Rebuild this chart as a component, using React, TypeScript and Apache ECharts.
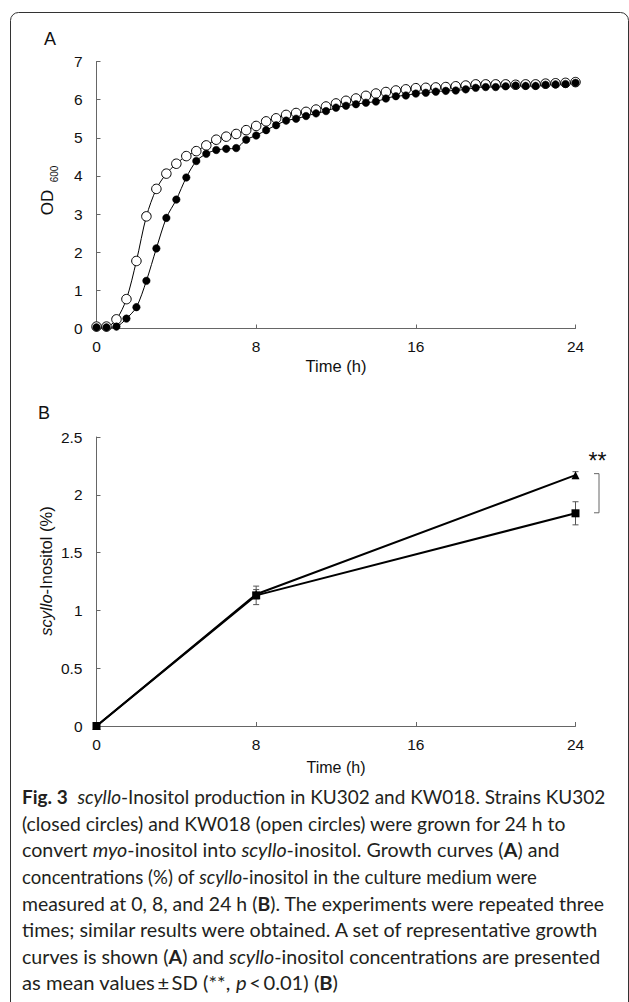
import React, { useEffect, useRef } from "react";
import * as echarts from "echarts";

// ---------- Panel A: growth curves (OD600) ----------
const growthTimes = [
  0, 0.5, 1, 1.5, 2, 2.5, 3, 3.5, 4, 4.5, 5, 5.5, 6, 6.5, 7, 7.5, 8, 8.5, 9, 9.5,
  10, 10.5, 11, 11.5, 12, 12.5, 13, 13.5, 14, 14.5, 15, 15.5, 16, 16.5, 17, 17.5,
  18, 18.5, 19, 19.5, 20, 20.5, 21, 21.5, 22, 22.5, 23, 23.5, 24,
];
// KW018 (open circles)
const kw018OD = [
  0.05, 0.05, 0.24, 0.77, 1.77, 2.94, 3.66, 4.06, 4.32, 4.52, 4.65, 4.8, 4.95, 5.03,
  5.1, 5.2, 5.31, 5.43, 5.51, 5.6, 5.65, 5.68, 5.74, 5.82, 5.9, 5.97, 6.03, 6.1, 6.16,
  6.2, 6.24, 6.27, 6.3, 6.31, 6.32, 6.33, 6.35, 6.37, 6.4, 6.4, 6.4, 6.4, 6.39, 6.4,
  6.4, 6.42, 6.43, 6.44, 6.46,
];
// KU302 (closed circles)
const ku302OD = [
  0.03, 0.03, 0.05, 0.26, 0.56, 1.25, 2.1, 2.9, 3.38, 3.96, 4.39, 4.58, 4.68, 4.71,
  4.73, 4.95, 5.06, 5.2, 5.33, 5.45, 5.5, 5.57, 5.64, 5.7, 5.79, 5.84, 5.88, 5.92,
  5.95, 6.03, 6.09, 6.11, 6.16, 6.18, 6.21, 6.23, 6.24, 6.27, 6.31, 6.33, 6.33, 6.35,
  6.37, 6.36, 6.36, 6.39, 6.4, 6.41, 6.44,
];

// ---------- Panel B: scyllo-inositol (%) ----------
const sampleTimes = [0, 8, 24];
const triangleMean = [0, 1.14, 2.17];
const triangleSD = [0, 0.04, 0.03];
const squareMean = [0, 1.13, 1.84];
const squareSD = [0, 0.08, 0.1];
const significanceLabel = "**";

// ---------- Axis ticks ----------
const xTicksHours = [0, 8, 16, 24];
const odTicks = [0, 1, 2, 3, 4, 5, 6, 7];
const percentTicks = [0, 0.5, 1, 1.5, 2, 2.5];

// ---------- Caption ----------
const captionLines = [
  "{b|Fig. 3}  {i|scyllo}-Inositol production in KU302 and KW018. Strains KU302",
  "(closed circles) and KW018 (open circles) were grown for 24 h to",
  "convert {i|myo}-inositol into {i|scyllo}-inositol. Growth curves ({b|A}) and",
  "concentrations (%) of {i|scyllo}-inositol in the culture medium were",
  "measured at 0, 8, and 24 h ({b|B}). The experiments were repeated three",
  "times; similar results were obtained. A set of representative growth",
  "curves is shown ({b|A}) and {i|scyllo}-inositol concentrations are presented",
  "as mean values\u2009\u00b1\u2009SD (**, {i|p}\u2009<\u20090.01) ({b|B})",
];
// layout: right end (px) of each caption line in the reference
const captionLineEnds = [605.5, 566.5, 559.5, 537, 605.5, 600.5, 600.5, 338];

const AX_FONT = "'Liberation Sans', Arial, sans-serif";
const CAP_FONT = "Lato, 'Open Sans', sans-serif";
const CAP_SIZE = 18.5;
const CAP_X = 22;
const AXIS_COLOR = "#666";
const LABEL_COLOR = "#111";

function measureRichLine(line: string, size: number, family: string): number {
  const canvas = document.createElement("canvas");
  const ctx = canvas.getContext("2d");
  if (!ctx) return 0;
  let total = 0;
  const re = /\{(\w)\|([^}]*)\}/g;
  let last = 0;
  let m: RegExpExecArray | null;
  const plain = (s: string) => {
    ctx.font = `${size}px ${family}`;
    total += ctx.measureText(s).width;
  };
  while ((m = re.exec(line))) {
    if (m.index > last) plain(line.slice(last, m.index));
    ctx.font = m[1] === "b" ? `bold ${size}px ${family}` : `italic ${size}px ${family}`;
    total += ctx.measureText(m[2]).width;
    last = re.lastIndex;
  }
  if (last < line.length) plain(line.slice(last));
  return total;
}

export default function App() {
  const ref = useRef<HTMLDivElement>(null);

  useEffect(() => {
    if (!ref.current) return;
    const chart = echarts.init(ref.current, null, { renderer: "svg" });

    const axisCommon = {
      type: "value" as const,
      axisLine: { show: true, lineStyle: { color: AXIS_COLOR, width: 1 } },
      axisTick: { show: true, inside: true, length: 4, lineStyle: { color: AXIS_COLOR } },
      splitLine: { show: false },
      axisLabel: { color: LABEL_COLOR, fontFamily: AX_FONT, fontSize: 15.5 },
    };

    const errData: any[] = [];
    sampleTimes.forEach((t, i) => {
      if (triangleSD[i] > 0)
        errData.push([t, triangleMean[i] - triangleSD[i], triangleMean[i] + triangleSD[i]]);
      if (squareSD[i] > 0)
        errData.push([t, squareMean[i] - squareSD[i], squareMean[i] + squareSD[i]]);
    });

    const last = sampleTimes.length - 1;

    const captionGraphics = captionLines.map((line, i) => {
      const w = measureRichLine(line, CAP_SIZE, CAP_FONT);
      const target = captionLineEnds[i] - CAP_X;
      const sx = w > 0 ? target / w : 1;
      return {
        type: "text",
        x: CAP_X,
        y: 797 + i * 26.6,
        scaleX: sx,
        style: {
          text: line,
          fontSize: CAP_SIZE,
          fontFamily: CAP_FONT,
          fill: "#231f20",
          align: "left",
          verticalAlign: "middle",
          rich: {
            b: { fontWeight: "bold", fontSize: CAP_SIZE, fontFamily: CAP_FONT, fill: "#231f20" },
            i: { fontStyle: "italic", fontSize: CAP_SIZE, fontFamily: CAP_FONT, fill: "#231f20" },
          },
        },
      };
    });

    const option: any = {
      animation: false,
      backgroundColor: "#fff",
      grid: [
        { left: 96.5, top: 61.5, width: 479, height: 267 },
        { left: 96.5, top: 437, width: 479, height: 289 },
      ],
      xAxis: [
        {
          ...axisCommon,
          gridIndex: 0,
          min: xTicksHours[0],
          max: xTicksHours[xTicksHours.length - 1],
          interval: 8,
          axisLabel: { ...axisCommon.axisLabel, margin: 10 },
        },
        {
          ...axisCommon,
          gridIndex: 1,
          min: xTicksHours[0],
          max: xTicksHours[xTicksHours.length - 1],
          interval: 8,
          axisLabel: { ...axisCommon.axisLabel, margin: 10 },
        },
      ],
      yAxis: [
        {
          ...axisCommon,
          gridIndex: 0,
          min: odTicks[0],
          max: odTicks[odTicks.length - 1],
          interval: 1,
          axisLabel: { ...axisCommon.axisLabel, margin: 14 },
        },
        {
          ...axisCommon,
          gridIndex: 1,
          min: percentTicks[0],
          max: percentTicks[percentTicks.length - 1],
          interval: 0.5,
          axisLabel: { ...axisCommon.axisLabel, margin: 14 },
        },
      ],
      series: [
        {
          name: "KW018",
          type: "line",
          xAxisIndex: 0,
          yAxisIndex: 0,
          data: growthTimes.map((t, i) => [t, kw018OD[i]]),
          smooth: 0.3,
          symbol: "circle",
          symbolSize: 9.5,
          showAllSymbol: true,
          lineStyle: { color: "#000", width: 1 },
          itemStyle: { color: "#fff", borderColor: "#000", borderWidth: 1 },
        },
        {
          name: "KU302",
          type: "line",
          xAxisIndex: 0,
          yAxisIndex: 0,
          data: growthTimes.map((t, i) => [t, ku302OD[i]]),
          smooth: 0.3,
          symbol: "circle",
          symbolSize: 7.5,
          showAllSymbol: true,
          lineStyle: { color: "#000", width: 1 },
          itemStyle: { color: "#000", borderColor: "#000", borderWidth: 0.5 },
        },
        {
          name: "errorbars",
          type: "custom",
          xAxisIndex: 1,
          yAxisIndex: 1,
          data: errData,
          z: 1,
          renderItem: (params: any, api: any) => {
            const x = api.value(0);
            const p1 = api.coord([x, api.value(1)]);
            const p2 = api.coord([x, api.value(2)]);
            const w = 3;
            const st = { stroke: "#555", lineWidth: 1 };
            return {
              type: "group",
              children: [
                { type: "line", shape: { x1: p1[0], y1: p1[1], x2: p2[0], y2: p2[1] }, style: st },
                { type: "line", shape: { x1: p1[0] - w, y1: p1[1], x2: p1[0] + w, y2: p1[1] }, style: st },
                { type: "line", shape: { x1: p2[0] - w, y1: p2[1], x2: p2[0] + w, y2: p2[1] }, style: st },
              ],
            };
          },
        },
        {
          name: "triangle",
          type: "line",
          xAxisIndex: 1,
          yAxisIndex: 1,
          z: 3,
          data: sampleTimes.map((t, i) => [t, triangleMean[i]]),
          symbol: "triangle",
          symbolSize: 8,
          lineStyle: { color: "#000", width: 2 },
          itemStyle: { color: "#000" },
        },
        {
          name: "square",
          type: "line",
          xAxisIndex: 1,
          yAxisIndex: 1,
          z: 4,
          data: sampleTimes.map((t, i) => [t, squareMean[i]]),
          symbol: "rect",
          symbolSize: 8,
          lineStyle: { color: "#000", width: 2 },
          itemStyle: { color: "#000" },
        },
        {
          name: "significance",
          type: "custom",
          xAxisIndex: 1,
          yAxisIndex: 1,
          data: [[sampleTimes[last], triangleMean[last], squareMean[last]]],
          renderItem: (params: any, api: any) => {
            const x = api.value(0);
            const top = api.coord([x, api.value(1)]);
            const bot = api.coord([x, api.value(2)]);
            const bx = top[0] + 23.5;
            const st = { stroke: "#666", lineWidth: 1 };
            return {
              type: "group",
              children: [
                { type: "line", shape: { x1: bx, y1: top[1] - 1.5, x2: bx, y2: bot[1] - 0.5 }, style: st },
                { type: "line", shape: { x1: bx - 5, y1: top[1] - 1.5, x2: bx, y2: top[1] - 1.5 }, style: st },
                { type: "line", shape: { x1: bx - 5, y1: bot[1] - 0.5, x2: bx, y2: bot[1] - 0.5 }, style: st },
                {
                  type: "text",
                  x: bx - 1.5,
                  y: top[1] - 14,
                  style: {
                    text: significanceLabel,
                    fontSize: 23,
                    fontFamily: AX_FONT,
                    fill: "#111",
                    align: "center",
                    verticalAlign: "middle",
                  },
                },
              ],
            };
          },
        },
      ],
      graphic: [
        {
          type: "rect",
          shape: { x: 10.5, y: 12.5, width: 618, height: 1010, r: 8 },
          style: { fill: "none", stroke: "#333", lineWidth: 1 },
          silent: true,
        },
        {
          type: "text",
          x: 50,
          y: 39,
          style: { text: "A", fontSize: 18, fontFamily: AX_FONT, fill: "#111", align: "center", verticalAlign: "middle" },
        },
        {
          type: "text",
          x: 44,
          y: 413,
          style: { text: "B", fontSize: 18, fontFamily: AX_FONT, fill: "#111", align: "center", verticalAlign: "middle" },
        },
        {
          type: "text",
          x: 47,
          y: 202.5,
          rotation: Math.PI / 2,
          style: { text: "OD", fontSize: 17, fontFamily: AX_FONT, fill: "#111", align: "center", verticalAlign: "middle" },
        },
        {
          type: "text",
          x: 54,
          y: 174,
          rotation: Math.PI / 2,
          style: { text: "600", fontSize: 10, fontFamily: AX_FONT, fill: "#111", align: "center", verticalAlign: "middle" },
        },
        {
          type: "text",
          x: 336,
          y: 366,
          style: { text: "Time (h)", fontSize: 16.5, fontFamily: AX_FONT, fill: "#111", align: "center", verticalAlign: "middle" },
        },
        {
          type: "text",
          x: 45.5,
          y: 571,
          rotation: Math.PI / 2,
          style: {
            text: "{i|scyllo}-Inositol (%)",
            fontSize: 16.5,
            fontFamily: AX_FONT,
            fill: "#111",
            align: "center",
            verticalAlign: "middle",
            rich: { i: { fontStyle: "italic", fontSize: 16.5, fontFamily: AX_FONT, fill: "#111" } },
          },
        },
        {
          type: "text",
          x: 336,
          y: 767,
          style: { text: "Time (h)", fontSize: 16, fontFamily: AX_FONT, fill: "#111", align: "center", verticalAlign: "middle" },
        },
        ...captionGraphics,
      ],
    };

    chart.setOption(option);
    return () => chart.dispose();
  }, []);

  return (
    <div
      ref={ref}
      style={{ position: "fixed", left: 0, top: 0, width: 629, height: 1002, background: "#fff" }}
    />
  );
}
